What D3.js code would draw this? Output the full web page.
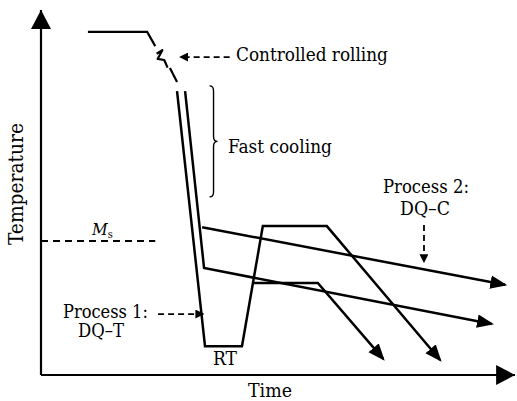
<!DOCTYPE html>
<html>
<head>
<meta charset="utf-8">
<script src="https://cdn.jsdelivr.net/npm/d3@7/dist/d3.min.js"></script>
<style>
  html, body { margin: 0; padding: 0; background: #fff; }
  svg { display: block; }
</style>
</head>
<body>
<svg id="chart" width="517" height="401"></svg>
<script>
// ---- Schematic data (time units 0-100, temperature units 0-100) ----
const rollingPath   = [[9.9, 94.0], [22.4, 94.0], [24.1, 90.1]];
const squigglePath  = [[24.4, 88.0], [25.6, 89.0], [24.6, 86.6], [26.0, 86.3], [26.7, 84.2]];
const rollingPath2  = [[27.2, 84.1], [28.7, 80.3]];
// Process 1: DQ-T (quench to RT then tempering at two temperatures)
const dqtMain   = [[28.7, 77.8], [34.6, 7.9], [42.4, 7.9], [46.8, 40.8], [60.3, 40.8], [84.2, 4.1]];
const dqtBranch = [[44.7, 25.2], [58.4, 25.2], [72.2, 4.4]];
// Process 2: DQ-C (interrupted quench then slow cooling)
const dqcMain   = [[30.4, 77.8], [34.4, 29.3], [95.1, 14.0]];
const dqcBranch = [[34.0, 40.5], [97.9, 24.7]];
const msLevel = 36.7;      // Ms temperature
const msEnd = 24.1;        // end of Ms dashed line
const braceRange = [79.2, 48.8]; // fast cooling brace extent (temperature)
const braceX = 36.4;

const labels = {
  yTitle: "Temperature", xTitle: "Time",
  rolling: "Controlled rolling", fast: "Fast cooling",
  p1a: "Process 1:", p1b: "DQ\u2013T", p2a: "Process 2:", p2b: "DQ\u2013C", rt: "RT"
};
const FONT = "DejaVu Serif Condensed, DejaVu Serif";

const svg = d3.select("#chart");
const x = d3.scaleLinear().domain([0, 100]).range([41, 515]);
const y = d3.scaleLinear().domain([0, 100]).range([375, 10]);

const defs = svg.append("defs");
function marker(id, len, wid, refX) {
  defs.append("marker").attr("id", id)
    .attr("markerUnits", "userSpaceOnUse")
    .attr("markerWidth", len + 2).attr("markerHeight", wid + 2)
    .attr("viewBox", `0 0 ${len} ${wid}`)
    .attr("refX", refX).attr("refY", wid / 2)
    .attr("orient", "auto")
    .append("path").attr("d", `M0,0L${len},${wid / 2}L0,${wid}Z`).attr("fill", "#000");
}
marker("axisArrow", 17, 18, 17);
marker("lineArrow", 15, 12, 13);
marker("dashArrow", 7, 7, 6);

const line = d3.line().x(d => x(d[0])).y(d => y(d[1]));

// axes
svg.append("path").attr("d", line([[0, 0], [0, 100]]))
  .attr("stroke", "#000").attr("stroke-width", 2.2).attr("fill", "none")
  .attr("marker-end", "url(#axisArrow)");
svg.append("path").attr("d", line([[0, 0], [100, 0]]))
  .attr("stroke", "#000").attr("stroke-width", 2.2).attr("fill", "none")
  .attr("marker-end", "url(#axisArrow)");

// process paths
function draw(pts, arrow, w) {
  const p = svg.append("path").attr("d", line(pts))
    .attr("stroke", "#000").attr("stroke-width", w || 2.5).attr("fill", "none")
    .attr("stroke-linejoin", "miter");
  if (arrow) p.attr("marker-end", "url(#lineArrow)");
  return p;
}
draw(rollingPath, false, 2.2);
draw(squigglePath, false, 2.2).attr("stroke-linejoin", "round");
draw(rollingPath2, false, 2.2);
draw(dqtMain, true);
draw(dqtBranch, true);
draw(dqcMain, true);
draw(dqcBranch, true);

// Ms dashed line
svg.append("path").attr("d", line([[0, msLevel], [msEnd, msLevel]]))
  .attr("stroke", "#000").attr("stroke-width", 2).attr("stroke-dasharray", "7,5").attr("fill", "none");

// dashed pointer arrows
function dashArrow(a, b) {
  svg.append("path").attr("d", line([a, b]))
    .attr("stroke", "#000").attr("stroke-width", 1.8).attr("stroke-dasharray", "6,4").attr("fill", "none")
    .attr("marker-end", "url(#dashArrow)");
}
dashArrow([39.8, 87.1], [29.4, 87.1]);   // controlled rolling
dashArrow([24.7, 16.7], [34.2, 16.7]);   // process 1
dashArrow([80.8, 41.1], [80.8, 31.0]);   // process 2

// brace for fast cooling
{
  const bx = x(braceX), y0 = y(braceRange[0]), y1 = y(braceRange[1]), ym = (y0 + y1) / 2;
  const d = `M${bx - 4},${y0} Q${bx},${y0} ${bx},${y0 + 5} L${bx},${ym - 5} Q${bx},${ym} ${bx + 4},${ym}` +
            ` Q${bx},${ym} ${bx},${ym + 5} L${bx},${y1 - 5} Q${bx},${y1} ${bx - 4},${y1}`;
  svg.append("path").attr("d", d).attr("stroke", "#000").attr("stroke-width", 1.4).attr("fill", "none");
}

// text helper: fit to a target width
function txt(s, px, py, width, anchor) {
  const t = svg.append("text").attr("x", px).attr("y", py).attr("font-size", 20)
    .style("font-family", FONT).attr("fill", "#000")
    .attr("text-anchor", anchor || "start").text(s);
  const w = t.node().getComputedTextLength();
  t.attr("font-size", 20 * width / w);
  return t;
}
txt(labels.rolling, 236, 61, 152);
txt(labels.fast, 228, 153, 104);
txt(labels.p2a, 426, 193, 86, "middle");
txt(labels.p2b, 425, 215, 50, "middle");
txt(labels.p1a, 63, 318, 85);
txt(labels.p1b, 78, 337, 46);
txt(labels.rt, 225, 365, 24, "middle");
txt(labels.xTitle, 270, 397, 44, "middle");
{
  const t = svg.append("text").attr("transform", "translate(23,184) rotate(-90)")
    .style("font-family", FONT).attr("fill", "#000")
    .attr("text-anchor", "middle").attr("font-size", 20).text(labels.yTitle);
  const w = t.node().getComputedTextLength();
  t.attr("font-size", 20 * 122 / w);
}
// Ms label
{
  const t = svg.append("text").attr("x", 92).attr("y", 235).attr("font-size", 17)
    .style("font-family", FONT).attr("fill", "#000");
  t.append("tspan").attr("font-style", "italic").text("M");
  t.append("tspan").attr("font-size", 11).attr("dy", 3).text("s");
}
</script>
</body>
</html>
